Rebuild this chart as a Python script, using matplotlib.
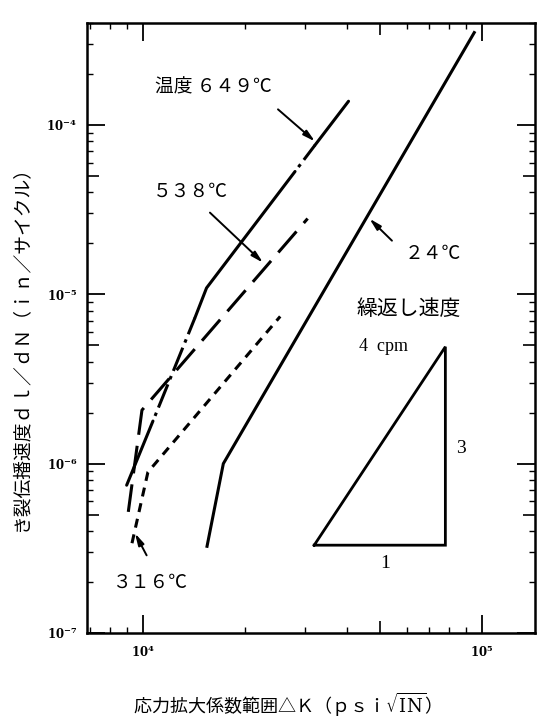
import numpy as np
import matplotlib
matplotlib.use('Agg')
import matplotlib.pyplot as plt
from matplotlib.ticker import LogLocator, NullLocator, FixedLocator, FuncFormatter

plt.rcParams['font.family'] = ['Noto Sans CJK JP', 'DejaVu Sans']
plt.rcParams['mathtext.fontset'] = 'dejavuserif'
plt.rcParams['lines.scale_dashes'] = False

# curves: stress intensity range dK vs da/dN
k_24 = [1.545e4, 1.726e4, 9.49e4]
v_24 = [3.25e-7, 1.0e-6, 3.51e-4]

k_316 = [9.28e3, 1.034e4, 2.54e4]
v_316 = [3.39e-7, 8.91e-7, 7.4e-6]

k_538 = [9.05e3, 9.93e3, 3.06e4]
v_538 = [5.19e-7, 2.07e-6, 2.8e-5]

k_649 = [8.95e3, 1.070e4, 1.423e4, 1.54e4, 2.809e4, 3.217e4, 4.04e4]
v_649 = [7.46e-7, 1.784e-6, 7.26e-6, 1.09e-5, 5.31e-5, 7.6e-5, 1.38e-4]
# (first point, last point, dashed?) pieces of the 649 curve
pieces_649 = [(0, 1, False), (1, 2, True), (2, 4, False), (4, 5, True), (5, 6, False)]

# slope triangle
tri_k = [3.2e4, 7.8e4, 7.8e4, 3.2e4]
tri_v = [3.3e-7, 3.3e-7, 4.9e-6, 3.3e-7]

# labels: text, (x, y) text, (x, y) arrow tail, (x, y) arrow tip
labels = [
    ('温度 ６４９℃', (1.085e4, 1.667e-4), (2.502e4, 1.236e-4), (3.217e4, 7.99e-5)),
    ('５３８℃', (1.07e4, 4.04e-5), (1.576e4, 3.035e-5), (2.26e4, 1.536e-5)),
    ('２４℃', (5.93e4, 1.74e-5), (5.426e4, 2.073e-5), (4.657e4, 2.797e-5)),
    ('３１６℃', (8.155e3, 1.99e-7), (1.025e4, 2.874e-7), (9.47e3, 3.88e-7)),
]

xlim = (6836, 1.433e5)
ylim = (1e-7, 4e-4)
mid_x = [5e3, 5e4]
mid_y = [5e-7, 5e-6, 5e-5]

fig = plt.figure(figsize=(5.39, 7.18), dpi=100)
ax = fig.add_axes([0.1614, 0.1184, 0.831, 0.8496])
ax.set_xscale('log')
ax.set_yscale('log')
ax.set_xlim(*xlim)
ax.set_ylim(*ylim)

lw = 2.2
ax.plot(k_24, v_24, color='k', lw=lw, solid_joinstyle='miter')
ax.plot(k_316, v_316, color='k', lw=lw, linestyle=(0, (6.5, 5)))
ax.plot(k_538, v_538, color='k', lw=lw, linestyle=(0, (20, 8)))
for i0, i1, dashed in pieces_649:
    ls = (18, (18, 4, 2.5, 4)) if dashed else '-'
    ax.plot(k_649[i0:i1 + 1], v_649[i0:i1 + 1], color='k', lw=lw, linestyle=ls,
            solid_capstyle='round')

ax.plot(tri_k, tri_v, color='k', lw=2.0, solid_joinstyle='miter')

for txt, pos, start, tip in labels:
    ax.text(pos[0], pos[1], txt, fontsize=13.5, ha='left', va='center')
    ax.annotate('', xy=tip, xytext=start,
                arrowprops=dict(arrowstyle='-|>,head_length=0.7,head_width=0.18',
                                color='k', lw=1.4, shrinkA=0, shrinkB=0))

ax.text(6.09e4, 8.2e-6, '繰返し速度', fontsize=15, ha='center', va='center')
ax.text(4.34e4, 4.95e-6, '4  cpm', fontsize=13, ha='left', va='center',
        family='Liberation Serif')
ax.text(5.175e4, 2.58e-7, '1', fontsize=14, ha='center', va='center',
        family='Liberation Serif')
ax.text(8.67e4, 1.236e-6, '3', fontsize=14, ha='center', va='center',
        family='Liberation Serif')

# ticks
fmt = FuncFormatter(lambda v, p: r'$\mathbf{10^{%d}}$' % round(np.log10(v)))
for axis in (ax.xaxis, ax.yaxis):
    axis.set_major_locator(LogLocator(base=10, subs=(1.0,)))
    axis.set_minor_locator(LogLocator(base=10, subs=(2, 3, 4, 6, 7, 8, 9)))
    axis.set_major_formatter(fmt)
ax.tick_params(which='both', direction='in', top=True, right=True)
ax.tick_params(which='major', length=13, width=1.3)
ax.tick_params(which='minor', length=4.5, width=1.0)
ax.tick_params(axis='x', pad=8, labelsize=8.5)
ax.tick_params(axis='y', pad=7, labelsize=8.5)
for s in ax.spines.values():
    s.set_linewidth(1.8)

# medium ticks at the 5s
for side in ('bottom', 'top'):
    sx = ax.secondary_xaxis(side)
    sx.xaxis.set_major_locator(FixedLocator(mid_x))
    sx.xaxis.set_minor_locator(NullLocator())
    sx.tick_params(direction='in', length=8.5, width=1.2, labelbottom=False, labeltop=False)
    for s in sx.spines.values():
        s.set_visible(False)
for side in ('left', 'right'):
    sy = ax.secondary_yaxis(side)
    sy.yaxis.set_major_locator(FixedLocator(mid_y))
    sy.yaxis.set_minor_locator(NullLocator())
    sy.tick_params(direction='in', length=8.5, width=1.2, labelleft=False, labelright=False)
    for s in sy.spines.values():
        s.set_visible(False)

fig.text(282 / 539, 1 - 705 / 718, '応力拡大係数範囲△Ｋ（ｐｓｉ$\\sqrt{\\mathrm{IN}}$）',
         fontsize=13, ha='center', va='center')
fig.text(21 / 539, 1 - 345 / 718, 'き裂伝播速度ｄｌ／ｄＮ（ｉｎ／サイクル）',
         fontsize=13.5, rotation=90, ha='center', va='center')

fig.savefig('out.png', dpi=100, facecolor='white')
